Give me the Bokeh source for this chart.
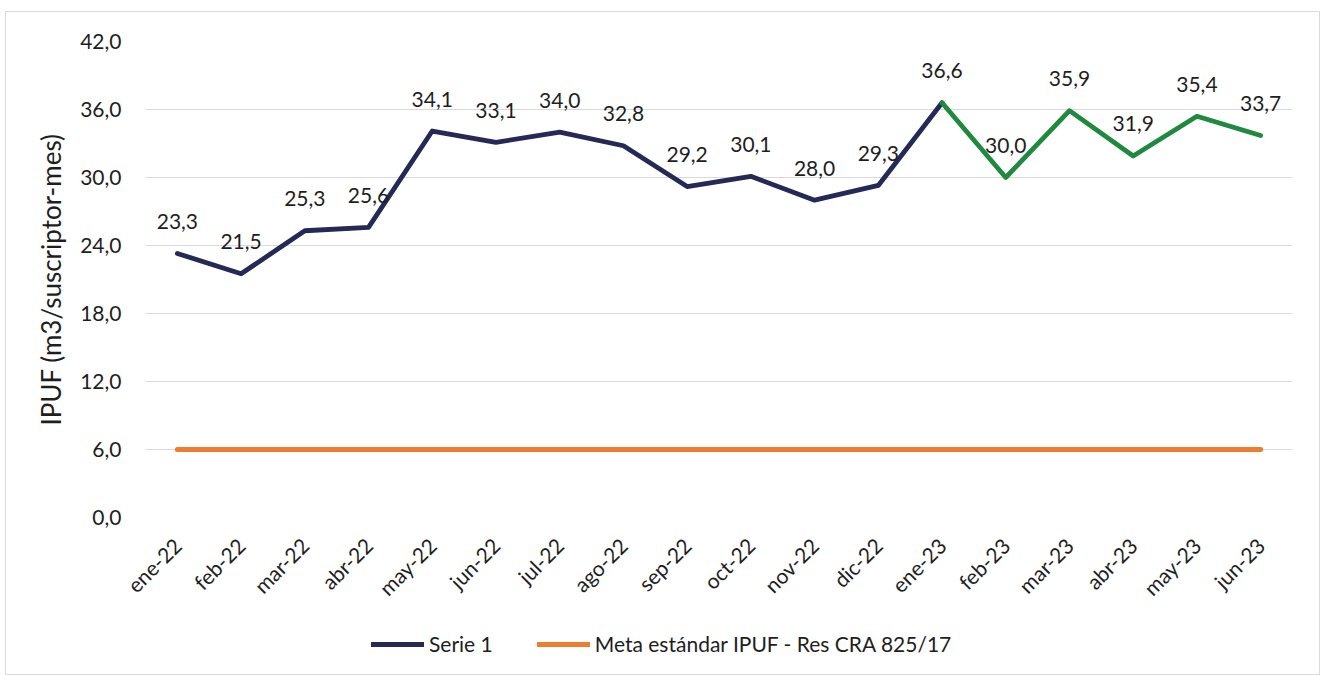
from bokeh.plotting import figure
from bokeh.layouts import column
from bokeh.models import (FactorRange, Range1d, FixedTicker, CustomJSTickFormatter,
                          ColumnDataSource, Legend, LegendItem)
from bokeh.core.properties import value
from bokeh.embed import file_html
from bokeh.resources import INLINE
import math

months = ["ene-22", "feb-22", "mar-22", "abr-22", "may-22", "jun-22", "jul-22", "ago-22",
          "sep-22", "oct-22", "nov-22", "dic-22", "ene-23", "feb-23", "mar-23", "abr-23",
          "may-23", "jun-23"]
serie1 = [23.3, 21.5, 25.3, 25.6, 34.1, 33.1, 34.0, 32.8, 29.2, 30.1, 28.0, 29.3,
          36.6, 30.0, 35.9, 31.9, 35.4, 33.7]
meta = [6.0] * len(months)
y_ticks = [0, 6, 12, 18, 24, 30, 36, 42]
split_index = 12  # from ene-23 the line is drawn in green

FONT = "Lato"
TXT = "#1e1e1e"
NAVY = "#262856"
GREEN = "#1f8a3f"
ORANGE = "#ed7d31"

p = figure(width=1313, height=600, x_range=FactorRange(factors=months),
           y_range=Range1d(0, 42), output_backend="svg", toolbar_location=None,
           min_border_left=139, min_border_right=27, min_border_top=29, min_border_bottom=95)
p.outline_line_color = None
p.background_fill_color = "white"

nav_src = ColumnDataSource(dict(x=months[:split_index + 1], y=serie1[:split_index + 1]))
grn_src = ColumnDataSource(dict(x=months[split_index:], y=serie1[split_index:]))
meta_src = ColumnDataSource(dict(x=months, y=meta))

r_meta = p.line("x", "y", source=meta_src, line_color=ORANGE, line_width=5, line_cap="round")
r_nav = p.line("x", "y", source=nav_src, line_color=NAVY, line_width=4.8, line_cap="round",
               line_join="round")
r_grn = p.line("x", "y", source=grn_src, line_color=GREEN, line_width=4.8, line_cap="round",
               line_join="round")

lbl_src = ColumnDataSource(dict(x=months, y=serie1,
                                t=[f"{v:.1f}".replace(".", ",") for v in serie1]))
p.text("x", "y", text="t", source=lbl_src, text_align="center", text_baseline="middle",
       y_offset=-32, text_font=value(FONT), text_font_size="21px", text_color=TXT)

# axes
p.yaxis.ticker = FixedTicker(ticks=y_ticks)
p.yaxis.formatter = CustomJSTickFormatter(code="return tick.toFixed(1).replace('.', ',');")
p.yaxis.axis_line_color = None
p.yaxis.major_tick_line_color = None
p.yaxis.minor_tick_line_color = None
p.yaxis.major_label_standoff = 18
p.yaxis.major_label_text_font = FONT
p.yaxis.major_label_text_font_size = "21px"
p.yaxis.major_label_text_color = TXT
p.yaxis.axis_label = "IPUF (m3/suscriptor-mes)"
p.yaxis.axis_label_text_font = FONT
p.yaxis.axis_label_text_font_size = "26px"
p.yaxis.axis_label_text_font_style = "normal"
p.yaxis.axis_label_text_color = TXT
p.yaxis.axis_label_standoff = 10

p.xaxis.axis_line_color = None
p.xaxis.major_tick_line_color = None
p.xaxis.minor_tick_line_color = None
p.xaxis.major_label_orientation = math.pi / 4
p.xaxis.major_label_standoff = 18
p.xaxis.major_label_text_font = FONT
p.xaxis.major_label_text_font_size = "21px"
p.xaxis.major_label_text_color = TXT
p.xgrid.grid_line_color = None
p.ygrid.grid_line_color = "#d9d9d9"
p.ygrid.grid_line_width = 1.2

# legend strip under the chart (its lines share the data but lie outside its visible range)
lg = figure(width=1313, height=62, x_range=FactorRange(factors=months), y_range=Range1d(100, 101),
            output_backend="svg", toolbar_location=None,
            min_border_left=0, min_border_right=0, min_border_top=0, min_border_bottom=0)
lg.axis.visible = False
lg.grid.visible = False
lg.outline_line_color = None
k_nav = lg.line("x", "y", source=nav_src, line_color=NAVY, line_width=4.8, line_cap="round")
k_meta = lg.line("x", "y", source=meta_src, line_color=ORANGE, line_width=5, line_cap="round")
legend = Legend(items=[LegendItem(label="Serie 1", renderers=[k_nav]),
                       LegendItem(label="Meta estándar IPUF - Res CRA 825/17", renderers=[k_meta])],
                orientation="horizontal", location=(226, 18),
                label_text_font=FONT, label_text_font_size="21px", label_text_color=TXT,
                glyph_width=53, glyph_height=22, label_standoff=5, spacing=44,
                padding=0, margin=0, border_line_color=None, background_fill_alpha=0)
lg.add_layout(legend, "center")

layout = column(p, lg, styles={"border": "1px solid #d9d9d9", "margin-left": "5px",
                               "margin-top": "11px"})

open("out.html", "w").write(file_html(layout, INLINE))
